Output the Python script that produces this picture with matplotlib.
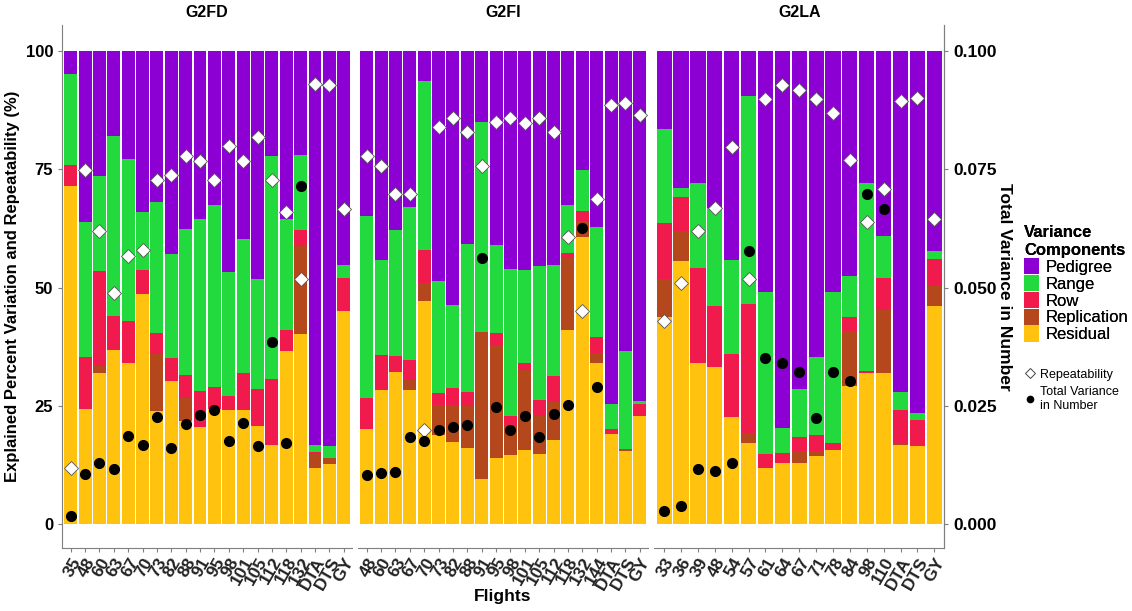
import numpy as np
import matplotlib.pyplot as plt
from matplotlib.patches import Patch
from matplotlib.lines import Line2D

# =========================
# DATA (percent of variance, bottom -> top)
# =========================

panels = ["G2FD", "G2FI", "G2LA"]

fd_flights = ["35", "48", "60", "63", "67", "70", "73", "82", "88", "91", "95",
              "98", "101", "105", "112", "118", "132", "DTA", "DTS", "GY"]
fd_residual = [71.5, 24.3, 31.9, 36.9, 34.0, 48.7, 23.9, 30.3, 21.9, 20.6, 24.4,
               24.1, 24.1, 20.7, 16.7, 36.6, 40.3, 12.0, 12.8, 45.0]
fd_replication = [0, 0, 1.5, 0, 0, 0, 12.0, 0, 4.7, 0, 0,
                  0, 0, 0, 0, 0, 18.6, 2.8, 1.3, 0]
fd_row = [4.4, 11.1, 20.2, 7.2, 8.9, 5.1, 4.5, 4.9, 4.9, 7.5, 4.6,
          3.1, 7.9, 7.9, 14.1, 4.4, 3.2, 0.5, 0, 7.0]
fd_range = [19.2, 28.4, 20.0, 38.0, 34.2, 12.2, 27.8, 22.0, 30.9, 36.5, 38.4,
            26.2, 28.3, 23.2, 47.0, 23.5, 15.9, 1.4, 2.4, 2.9]
fd_pedigree = [4.9, 36.2, 26.4, 17.9, 22.9, 34.0, 31.8, 42.8, 37.6, 35.4, 32.6,
               46.6, 39.7, 48.2, 22.2, 35.5, 22.0, 83.3, 83.5, 45.1]
fd_repeat = [12.0, 74.8, 61.9, 48.9, 56.8, 57.9, 72.8, 73.8, 77.8, 76.8, 72.8,
             80.0, 76.8, 81.8, 72.8, 65.9, 51.8, 93.0, 92.8, 66.6]
fd_totvar = [0.0017, 0.0106, 0.0129, 0.0117, 0.0186, 0.0168, 0.0226, 0.0162, 0.0213,
             0.0231, 0.0241, 0.0176, 0.0215, 0.0165, 0.0385, 0.0171, 0.0714,
             np.nan, np.nan, np.nan]

fi_flights = ["48", "60", "63", "67", "70", "73", "82", "88", "91", "95", "98",
              "101", "105", "112", "118", "132", "144", "DTA", "DTS", "GY"]
fi_residual = [20.2, 28.3, 32.1, 28.5, 47.1, 18.8, 17.4, 16.2, 9.5, 14.1, 14.6,
               15.8, 14.9, 17.9, 41.0, 60.8, 34.1, 19.0, 15.6, 22.9]
fi_replication = [0, 0, 0, 2.0, 3.9, 6.5, 7.9, 8.9, 31.2, 23.9, 6.1,
                  16.8, 8.0, 7.9, 15.3, 3.2, 2.1, 0, 0.4, 0]
fi_row = [6.4, 7.4, 3.4, 4.2, 7.0, 2.5, 3.5, 2.9, 0, 2.4, 2.3,
          1.5, 3.3, 5.6, 1.1, 2.2, 3.3, 1.2, 0, 2.6]
fi_range = [38.6, 20.1, 26.7, 32.3, 35.7, 23.7, 17.6, 31.2, 44.3, 18.7, 30.9,
            19.7, 28.4, 23.5, 10.1, 8.6, 23.4, 5.3, 20.6, 0.5]
fi_pedigree = [34.8, 44.2, 37.8, 33.0, 6.3, 48.5, 53.6, 40.8, 15.0, 40.9, 46.1,
               46.2, 45.4, 45.1, 32.5, 25.2, 37.1, 74.5, 63.4, 74.0]
fi_repeat = [77.8, 75.8, 69.8, 69.8, 20.0, 83.9, 85.8, 82.8, 75.8, 85.0, 85.8,
             84.9, 85.8, 82.8, 60.8, 45.0, 68.8, 88.6, 89.0, 86.5]
fi_totvar = [0.0104, 0.0108, 0.0110, 0.0185, 0.0177, 0.0199, 0.0205, 0.0209, 0.0563,
             0.0248, 0.0200, 0.0229, 0.0184, 0.0234, 0.0253, 0.0627, 0.0290,
             np.nan, np.nan, np.nan]

la_flights = ["33", "36", "39", "48", "54", "57", "61", "64", "67", "71", "78",
              "84", "98", "110", "DTA", "DTS", "GY"]
la_residual = [43.9, 55.7, 34.0, 33.2, 22.7, 17.1, 12.0, 12.9, 13.0, 14.4, 15.7,
               29.2, 31.9, 32.0, 16.7, 16.5, 46.1]
la_replication = [7.9, 6.2, 0, 0, 0, 2.2, 0, 0, 2.5, 1.1, 0,
                  11.6, 0, 13.4, 0.2, 0, 4.2]
la_row = [11.8, 7.2, 20.2, 12.9, 13.4, 27.3, 2.8, 2.2, 3.0, 3.3, 1.5,
          3.0, 0.6, 6.6, 7.2, 5.5, 5.7]
la_range = [19.9, 1.9, 18.0, 20.7, 19.8, 44.0, 34.3, 5.2, 10.1, 16.6, 32.0,
            8.6, 39.6, 9.0, 3.8, 1.6, 1.7]
la_pedigree = [16.5, 29.0, 27.8, 33.2, 44.1, 9.4, 50.9, 79.7, 71.4, 64.6, 50.8,
               47.6, 27.9, 39.0, 72.1, 76.4, 42.3]
la_repeat = [43.0, 51.0, 61.9, 66.8, 79.8, 51.9, 89.9, 92.8, 91.8, 89.8, 86.9,
             76.9, 63.9, 70.8, 89.5, 90.0, 64.6]
la_totvar = [0.0028, 0.0039, 0.0117, 0.0112, 0.0130, 0.0578, 0.0351, 0.0341, 0.0321,
             0.0225, 0.0322, 0.0304, 0.0698, 0.0666, np.nan, np.nan, np.nan]

components = ["Residual", "Replication", "Row", "Range", "Pedigree"]
colors = {
    "Pedigree": "#8C00D4",
    "Range": "#22DA3E",
    "Row": "#F01A4C",
    "Replication": "#B5471C",
    "Residual": "#FFC20E",
}

panel_data = [
    (fd_flights, [fd_residual, fd_replication, fd_row, fd_range, fd_pedigree], fd_repeat, fd_totvar),
    (fi_flights, [fi_residual, fi_replication, fi_row, fi_range, fi_pedigree], fi_repeat, fi_totvar),
    (la_flights, [la_residual, la_replication, la_row, la_range, la_pedigree], la_repeat, la_totvar),
]

# =========================
# PLOT
# =========================

plt.rcParams["font.family"] = ["Liberation Sans", "DejaVu Sans"]

fig = plt.figure(figsize=(11.32, 6.11), dpi=100)

lefts = [0.0548, 0.3163, 0.5778]
width = 0.2565
bottom, height = 0.103, 0.856
spine_col = "#7f7f7f"
SCALE = 1000  # total variance 0.1 == 100 %

axes = []
for i, (name, (flights, comps, rep, tv)) in enumerate(zip(panels, panel_data)):
    ax = fig.add_axes([lefts[i], bottom, width, height])
    axes.append(ax)
    x = np.arange(len(flights))
    base = np.zeros(len(flights))
    for comp, vals in zip(components, comps):
        ax.bar(x, vals, bottom=base, width=0.9, color=colors[comp], linewidth=0)
        base = base + np.array(vals)

    ax.plot(x, rep, linestyle="none", marker="D", ms=6.8, mfc="white",
            mec="#555555", mew=0.6, zorder=4)
    ax.plot(x, np.array(tv) * SCALE, linestyle="none", marker="o", ms=7,
            mfc="black", mec="black", zorder=4)

    ax.set_xlim(-0.6, len(flights) - 0.4)
    ax.set_ylim(-5, 105.5)
    ax.set_xticks(x)
    ax.set_xticklabels(flights, rotation=60, ha="right", rotation_mode="anchor",
                       fontsize=12.5, fontweight="bold", color="#222222")
    ax.tick_params(axis="x", length=3, color=spine_col, pad=2)
    ax.set_title(name, fontsize=11.5, fontweight="bold", pad=6)

    for side in ["top", "right", "left"]:
        ax.spines[side].set_visible(False)
    ax.spines["bottom"].set_color(spine_col)

    if i == 0:
        ax.spines["left"].set_visible(True)
        ax.spines["left"].set_color(spine_col)
        ax.set_yticks([0, 25, 50, 75, 100])
        ax.tick_params(axis="y", length=3, color=spine_col, labelsize=12)
        for t in ax.get_yticklabels():
            t.set_fontweight("bold")
        ax.set_ylabel("Explained Percent Variation and Repeatability (%)",
                      fontsize=12, fontweight="bold", labelpad=4)
    else:
        ax.set_yticks([])

    if i == 2:
        ax.spines["right"].set_visible(True)
        ax.spines["right"].set_color(spine_col)
        sec = ax.secondary_yaxis("right", functions=(lambda v: v / SCALE, lambda v: v * SCALE))
        sec.spines["right"].set_color(spine_col)
        sec.set_yticks([0, 0.025, 0.05, 0.075, 0.1])
        sec.set_yticklabels(["0.000", "0.025", "0.050", "0.075", "0.100"],
                            fontsize=12.5, fontweight="bold")
        sec.tick_params(length=3, color=spine_col)
        sec.set_ylabel("Total Variance in Number", rotation=270, fontsize=12.5,
                       fontweight="bold", labelpad=11)

fig.text(0.444, 0.012, "Flights", ha="center", va="bottom", fontsize=12.5, fontweight="bold")

# legends
comp_handles = [Patch(facecolor=colors[c], edgecolor="none")
                for c in ["Pedigree", "Range", "Row", "Replication", "Residual"]]
leg1 = fig.legend(comp_handles, ["Pedigree", "Range", "Row", "Replication", "Residual"],
                  loc="upper left", bbox_to_anchor=(0.899, 0.642), frameon=False,
                  title="Variance\nComponents", fontsize=12, handlelength=0.9,
                  handleheight=1.15, handletextpad=0.4, labelspacing=0.0,
                  borderaxespad=0, alignment="left",
                  title_fontproperties={"weight": "bold", "size": 12})
fig.add_artist(leg1)

pt_handles = [
    Line2D([], [], linestyle="none", marker="D", ms=5.5, mfc="white", mec="#444444", mew=0.7),
    Line2D([], [], linestyle="none", marker="o", ms=4.5, mfc="black", mec="black"),
]
fig.legend(pt_handles, ["Repeatability", "Total Variance\nin Number"],
           loc="upper left", bbox_to_anchor=(0.902, 0.405), frameon=False,
           fontsize=9, handlelength=0.6, handletextpad=0.5, labelspacing=0.45,
           borderaxespad=0)

fig.savefig("out.png", dpi=100)
